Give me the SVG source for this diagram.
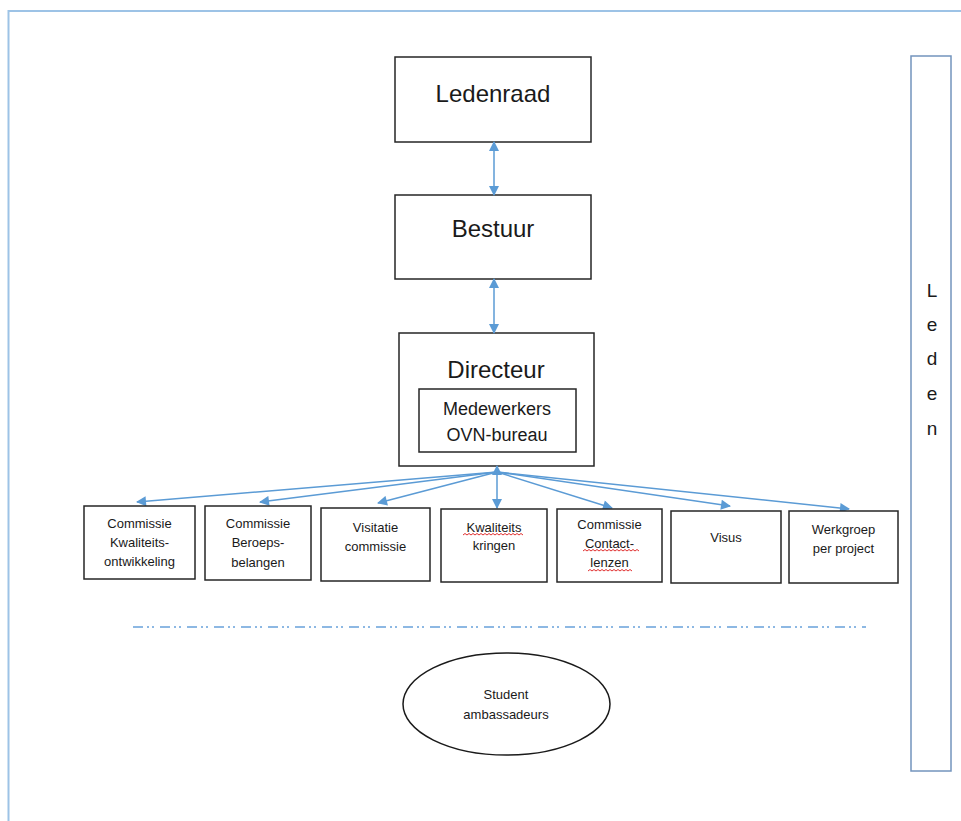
<svg xmlns="http://www.w3.org/2000/svg" width="961" height="821" viewBox="0 0 961 821">
<style>
  .box { fill: #ffffff; stroke: #262626; stroke-width: 1.5; }
  .t { font-family: "Liberation Sans", Arial, sans-serif; fill: #1a1a1a; text-anchor: middle; }
  .big { font-size: 24px; }
  .mid { font-size: 18px; }
  .sm { font-size: 13px; }
  .conn { stroke: #5b9bd5; stroke-width: 1.5; fill: none; }
  .squig { stroke: #e03030; stroke-width: 1; fill: none; }
</style>
<defs>
  <marker id="ah" viewBox="0 0 10 10" refX="9" refY="5" markerWidth="11" markerHeight="10" orient="auto-start-reverse" markerUnits="userSpaceOnUse">
    <path d="M0,0 L10,5 L0,10 z" fill="#5b9bd5"/>
  </marker>
</defs>
<rect width="961" height="821" fill="#ffffff"/>
<g id="frame">
  <path d="M8.5,821 L8.5,11 L961,11" fill="none" stroke="#9dc3e6" stroke-width="2"/>
</g>
<g id="leden">
  <rect x="911" y="56" width="40" height="715" fill="#ffffff" stroke="#7394bd" stroke-width="1.5"/>
  <text class="t" x="932" y="297" font-size="19">L</text>
  <text class="t" x="932" y="331" font-size="19">e</text>
  <text class="t" x="932" y="365" font-size="19">d</text>
  <text class="t" x="932" y="400" font-size="19">e</text>
  <text class="t" x="932" y="435" font-size="19">n</text>
</g>
<g id="ledenraad">
  <rect class="box" x="395" y="57" width="196" height="85"/>
  <text class="t big" x="493" y="102">Ledenraad</text>
</g>
<g id="bestuur">
  <rect class="box" x="395" y="195" width="196" height="84"/>
  <text class="t big" x="493" y="237">Bestuur</text>
</g>
<g id="directeur">
  <rect class="box" x="399" y="333" width="195" height="133"/>
  <text class="t big" x="496" y="378">Directeur</text>
</g>
<g id="medewerkers">
  <rect class="box" x="419" y="389" width="157" height="63"/>
  <text class="t mid" x="497" y="415">Medewerkers</text>
  <text class="t mid" x="497" y="441">OVN-bureau</text>
</g>
<g id="connectors">
  <line class="conn" x1="494" y1="142" x2="494" y2="195" marker-start="url(#ah)" marker-end="url(#ah)"/>
  <line class="conn" x1="494" y1="279" x2="494" y2="333" marker-start="url(#ah)" marker-end="url(#ah)"/>
  <line class="conn" x1="497" y1="466" x2="497" y2="508" marker-start="url(#ah)" marker-end="url(#ah)"/>
  <line class="conn" x1="497" y1="472" x2="137" y2="502" marker-end="url(#ah)"/>
  <line class="conn" x1="497" y1="472" x2="260" y2="502" marker-end="url(#ah)"/>
  <line class="conn" x1="497" y1="472" x2="378" y2="503" marker-end="url(#ah)"/>
  <line class="conn" x1="497" y1="472" x2="612" y2="508" marker-end="url(#ah)"/>
  <line class="conn" x1="497" y1="472" x2="730" y2="506" marker-end="url(#ah)"/>
  <line class="conn" x1="497" y1="472" x2="849" y2="509" marker-end="url(#ah)"/>
</g>
<g id="c1">
  <rect class="box" x="84" y="506" width="111" height="73"/>
  <text class="t sm" x="139.5" y="528">Commissie</text>
  <text class="t sm" x="139.5" y="547">Kwaliteits-</text>
  <text class="t sm" x="139.5" y="566">ontwikkeling</text>
</g>
<g id="c2">
  <rect class="box" x="205" y="506" width="106" height="74"/>
  <text class="t sm" x="258" y="528">Commissie</text>
  <text class="t sm" x="258" y="547">Beroeps-</text>
  <text class="t sm" x="258" y="567">belangen</text>
</g>
<g id="c3">
  <rect class="box" x="321" y="508" width="109" height="73"/>
  <text class="t sm" x="375.5" y="532">Visitatie</text>
  <text class="t sm" x="375.5" y="551">commissie</text>
</g>
<g id="c4">
  <rect class="box" x="441" y="509" width="106" height="73"/>
  <text class="t sm" x="494" y="532">Kwaliteits</text>
  <text class="t sm" x="494" y="550">kringen</text>
  <path class="squig" d="M463,535 l2,-1.5 l2,1.5 l2,-1.5 l2,1.5 l2,-1.5 l2,1.5 l2,-1.5 l2,1.5 l2,-1.5 l2,1.5 l2,-1.5 l2,1.5 l2,-1.5 l2,1.5 l2,-1.5 l2,1.5 l2,-1.5 l2,1.5 l2,-1.5 l2,1.5 l2,-1.5 l2,1.5 l2,-1.5 l2,1.5 l2,-1.5 l2,1.5 l2,-1.5 l2,1.5 l2,-1.5 l2,1.5"/>
</g>
<g id="c5">
  <rect class="box" x="557" y="509" width="105" height="73"/>
  <text class="t sm" x="609.5" y="529">Commissie</text>
  <text class="t sm" x="609.5" y="548">Contact-</text>
  <text class="t sm" x="609.5" y="567">lenzen</text>
  <path class="squig" d="M583,551 l2,-1.5 l2,1.5 l2,-1.5 l2,1.5 l2,-1.5 l2,1.5 l2,-1.5 l2,1.5 l2,-1.5 l2,1.5 l2,-1.5 l2,1.5 l2,-1.5 l2,1.5 l2,-1.5 l2,1.5 l2,-1.5 l2,1.5 l2,-1.5 l2,1.5 l2,-1.5 l2,1.5 l2,-1.5 l2,1.5 l2,-1.5 l2,1.5 l2,-1.5 l2,1.5"/>
  <path class="squig" d="M588,571 l2,-1.5 l2,1.5 l2,-1.5 l2,1.5 l2,-1.5 l2,1.5 l2,-1.5 l2,1.5 l2,-1.5 l2,1.5 l2,-1.5 l2,1.5 l2,-1.5 l2,1.5 l2,-1.5 l2,1.5 l2,-1.5 l2,1.5 l2,-1.5 l2,1.5 l2,-1.5 l2,1.5"/>
</g>
<g id="c6">
  <rect class="box" x="671" y="511" width="110" height="72"/>
  <text class="t sm" x="726" y="542">Visus</text>
</g>
<g id="c7">
  <rect class="box" x="789" y="511" width="109" height="72"/>
  <text class="t sm" x="843.5" y="534">Werkgroep</text>
  <text class="t sm" x="843.5" y="553">per project</text>
</g>
<g id="separator">
  <line x1="133" y1="627" x2="866" y2="627" stroke="#8db8e3" stroke-width="2" stroke-dasharray="10 4 2 3 2 6"/>
</g>
<g id="student">
  <ellipse cx="506.5" cy="704" rx="103.5" ry="51" fill="#ffffff" stroke="#1a1a1a" stroke-width="1.5"/>
  <text class="t sm" x="506" y="699">Student</text>
  <text class="t sm" x="506" y="719">ambassadeurs</text>
</g>
</svg>
